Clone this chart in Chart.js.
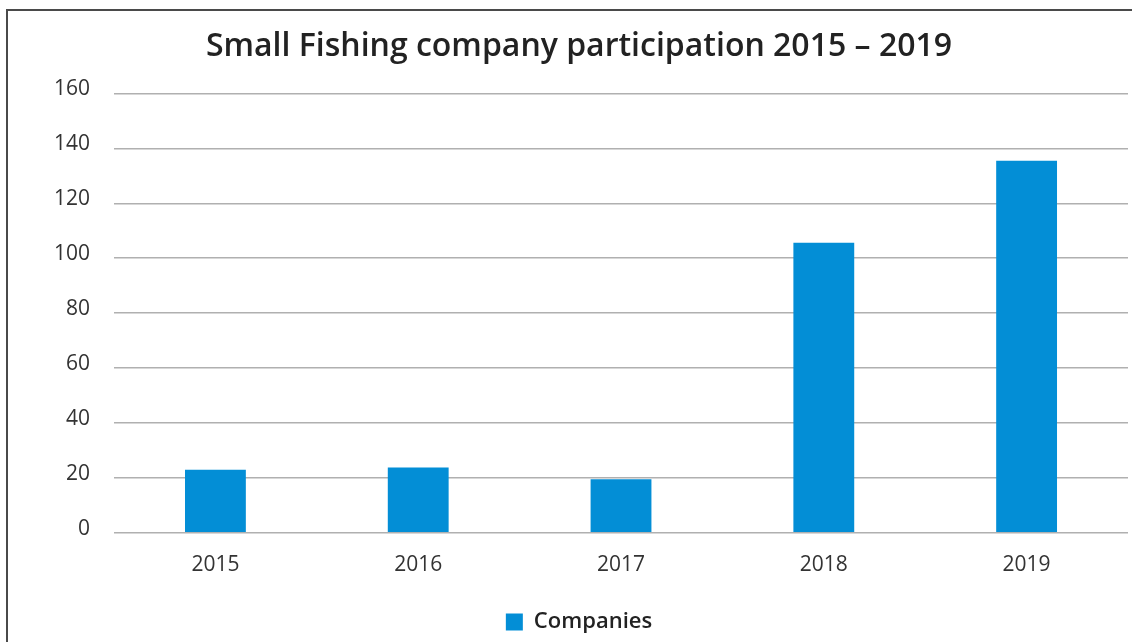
<!DOCTYPE html>
<html>
<head>
<meta charset="utf-8">
<script src="https://cdn.jsdelivr.net/npm/chart.js@4.4.0/dist/chart.umd.min.js"></script>
<style>
  body { margin: 0; background: #fff; overflow: hidden; }
  #frame { position: absolute; left: 6px; top: 9px; width: 1140px; height: 650px; border: 2px solid #4a4a4a; }
  #wrap { position: absolute; left: 0; top: 0; width: 1132px; height: 642px; }
</style>
</head>
<body>
<div id="frame"></div>
<div id="wrap"><canvas id="barChart"></canvas></div>
<script>
// chart data
var years = ["2015", "2016", "2017", "2018", "2019"];
var companies = [23, 23.8, 19.5, 105.6, 135.5];
var yTicks = [0, 20, 40, 60, 80, 100, 120, 140, 160];

var ctx = document.getElementById("barChart");
var barChart = new Chart(ctx, {
  type: 'bar',
  data: {
    labels: years,
    datasets: [
      {
        label: "Companies",
        data: companies,
        backgroundColor: "#038ed6",
        borderWidth: 0,
        categoryPercentage: 1,
        barPercentage: 0.3
      }
    ]
  },
  options: {
    responsive: true,
    maintainAspectRatio: false,
    animation: false,
    layout: { padding: { left: 30, right: 4, top: 18, bottom: -1 } },
    plugins: {
      title: {
        display: true,
        text: "Small Fishing company participation 2015 – 2019",
        color: "#222",
        font: { family: "Open Sans", size: 32, weight: "600" },
        padding: { top: 10, bottom: 27 }
      },
      legend: {
        position: 'bottom',
        labels: {
          color: "#222",
          font: { family: "Open Sans", size: 22, weight: "600" },
          boxWidth: 17,
          boxHeight: 17,
          padding: 14
        }
      },
      tooltip: { enabled: false }
    },
    scales: {
      x: {
        grid: { display: false },
        border: { display: false },
        ticks: { color: "#333", font: { family: "Open Sans", size: 21 }, padding: 12 },
        afterFit: function (axis) { axis.height += 7; }
      },
      y: {
        min: 0,
        max: 160,
        afterBuildTicks: function (axis) {
          axis.ticks = yTicks.map(function (v) { return { value: v }; });
        },
        grid: { color: "#b0b0b0", lineWidth: 1.5, drawTicks: false },
        border: { display: false },
        ticks: { color: "#333", font: { family: "Open Sans", size: 21 }, padding: 24, labelOffset: -4 }
      }
    }
  }
});
</script>
</body>
</html>
